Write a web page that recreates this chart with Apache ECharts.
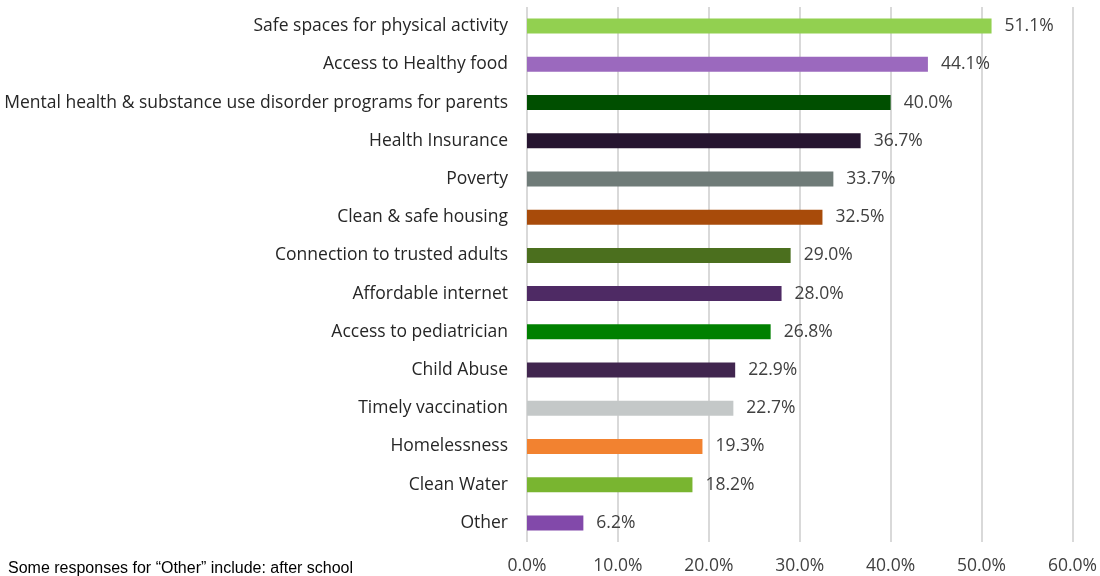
<!DOCTYPE html>
<html>
<head>
<meta charset="utf-8">
<script src="https://cdn.jsdelivr.net/npm/echarts@6/dist/echarts.min.js"></script>
<style>
html,body{margin:0;padding:0;background:#fff;}
#chart{width:1100px;height:576px;}
</style>
</head>
<body>
<div id="chart"></div>
<script>
const categories = [
  "Safe spaces for physical activity",
  "Access to Healthy food",
  "Mental health & substance use disorder programs for parents",
  "Health Insurance",
  "Poverty",
  "Clean & safe housing",
  "Connection to trusted adults",
  "Affordable internet",
  "Access to pediatrician",
  "Child Abuse",
  "Timely vaccination",
  "Homelessness",
  "Clean Water",
  "Other"
];
const values = [51.1, 44.1, 40.0, 36.7, 33.7, 32.5, 29.0, 28.0, 26.8, 22.9, 22.7, 19.3, 18.2, 6.2];
const barColors = [
  "#92D050", "#9B69BE", "#004F00", "#261530", "#6F7B78", "#A84B0A", "#4B6F1E",
  "#4E2A64", "#008000", "#41264F", "#C4C8C8", "#F28230", "#79B530", "#8249AA"
];
const tickLabels = ["0.0%", "10.0%", "20.0%", "30.0%", "40.0%", "50.0%", "60.0%"];
const footnote = "Some responses for \u201COther\u201D include: after school";

const FONT = "'Open Sans', Carlito, Calibri, sans-serif";
const chart = echarts.init(document.getElementById('chart'), null, {renderer: 'canvas'});
chart.setOption({
  backgroundColor: '#ffffff',
  animation: false,
  grid: {left: 527, right: 21, top: 7, bottom: 34, containLabel: false},
  xAxis: {
    type: 'value', min: 0, max: 60, interval: 10,
    axisLine: {show: false}, axisTick: {show: false},
    splitLine: {show: true, lineStyle: {color: '#d9d9d9', width: 2}},
    axisLabel: {
      margin: 15, color: '#404040', fontFamily: FONT, fontSize: 17.5,
      formatter: v => tickLabels[Math.round(v / 10)]
    }
  },
  yAxis: {
    type: 'category', data: categories, inverse: true,
    axisLine: {show: false}, axisTick: {show: false},
    axisLabel: {margin: 19, color: '#262626', fontFamily: FONT, fontSize: 17.5}
  },
  series: [{
    type: 'bar',
    barWidth: 15,
    data: values.map((v, i) => ({value: v, itemStyle: {color: barColors[i]}})),
    label: {
      show: true, position: 'right', distance: 13,
      color: '#404040', fontFamily: FONT, fontSize: 17.5,
      formatter: p => p.value.toFixed(1) + '%'
    }
  }],
  graphic: [{
    type: 'text', left: 8, top: 561,
    style: {text: footnote, fill: '#000000', font: '16px "Liberation Sans", Arial, sans-serif'}
  }]
});
</script>
</body>
</html>
